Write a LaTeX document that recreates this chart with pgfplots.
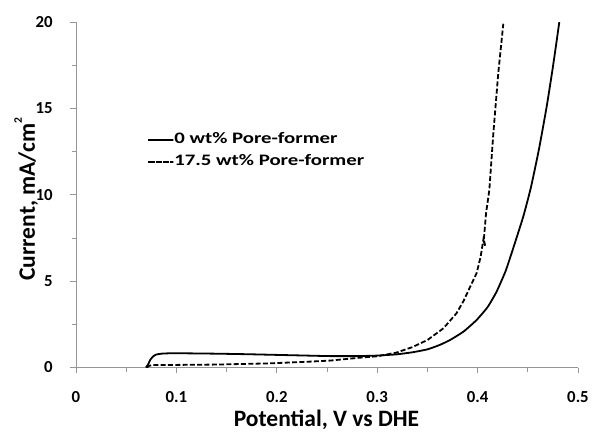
\documentclass[border=0pt]{standalone}
\usepackage{fontspec}
\setmainfont{Carlito}
\usepackage{graphicx}
\usepackage{pgfplots}
\pgfplotsset{compat=1.18}
\definecolor{axgray}{RGB}{150,150,150}
\pgfplotsset{
  longleg/.style={legend image code/.code={\path (0pt,0pt) rectangle (25pt,0pt);
    \draw[##1] (0pt,0pt) -- (24.4pt,0pt);}},
  shortleg/.style={legend image code/.code={\path (0pt,0pt) rectangle (25pt,0pt);
    \draw[##1] (0pt,0pt) -- (19.6pt,0pt);}},
}

\begin{document}
\begin{tikzpicture}
\begin{axis}[
  name=ax, at={(0,0)}, anchor=south west,
  scale only axis, width=502pt, height=345.5pt,
  xmin=0, xmax=0.5, ymin=0, ymax=20,
  axis x line*=bottom, axis y line*=left,
  axis line style={axgray, line width=0.8pt},
  every tick/.style={axgray, line width=0.8pt},
  tick align=outside, major tick length=5.5pt, minor tick length=4pt,
  xtick={0,0.1,0.2,0.3,0.4,0.5}, xticklabels={0,0.1,0.2,0.3,0.4,0.5},
  minor xtick={0.05,0.15,0.25,0.35,0.45},
  ytick={0,5,10,15,20}, yticklabels={0,5,10,15,20},
  minor ytick={2.5,7.5,12.5,17.5},
  ticklabel style={font=\fontsize{16.8}{19}\selectfont\bfseries, inner sep=0pt},
  xticklabel style={anchor=north, yshift=-18.5pt},
  yticklabel style={anchor=east, xshift=-17.7pt},
  label style={font=\fontsize{23.5}{27}\selectfont\bfseries},
  xlabel={Potential, V vs DHE},
  xlabel style={at={(axis description cs:0.499,-0.171)}, anchor=base},
  ylabel={Current, mA/cm\raisebox{13pt}{\fontsize{11.5}{11.5}\selectfont 2}},
  ylabel style={at={(axis description cs:-0.082,0.487)}, anchor=base},
  legend style={at={(axis description cs:0.142,0.681)}, anchor=north west,
    draw=none, fill=none, inner sep=0pt, row sep=7pt,
    font=\fontsize{16}{19}\selectfont\bfseries,
    nodes={inner sep=0pt, text height=11pt, text depth=4pt}},
  legend cell align=left,
]
\addplot[black, line width=1.8pt, smooth, tension=0.3, longleg] coordinates {
(0.0697,0) (0.0720,0.2) (0.0740,0.45) (0.0770,0.65) (0.0800,0.75)
(0.0850,0.80) (0.0920,0.82) (0.1100,0.82) (0.1400,0.80) (0.1700,0.77)
(0.2000,0.73) (0.2300,0.69) (0.2530,0.66) (0.2800,0.66) (0.3000,0.69)
(0.3190,0.76) (0.3350,0.88) (0.3500,1.05) (0.3620,1.30) (0.3725,1.59)
(0.3858,2.07) (0.3990,2.75) (0.4100,3.50) (0.4190,4.40) (0.4280,5.60)
(0.4360,7.00) (0.4455,8.74) (0.4530,10.40) (0.4610,12.60) (0.4688,15.10)
(0.4750,17.40) (0.4814,20.0)
};
\addlegendentry{\scalebox{1.3}[1]{0 wt\% Pore-former}}
\addplot[black, line width=1.8pt, dash pattern=on 5pt off 2.3pt, shortleg] coordinates {
(0.0704,0) (0.0730,0.10) (0.0760,0.14) (0.1000,0.15) (0.1400,0.17)
(0.1930,0.24) (0.2330,0.34) (0.2530,0.40) (0.2830,0.57) (0.3000,0.65)
(0.3190,0.86) (0.3350,1.18) (0.3500,1.59) (0.3660,2.27) (0.3790,3.14)
(0.3860,3.85) (0.3920,4.60) (0.3990,5.46) (0.4030,6.40) (0.4057,7.39)
(0.4075,7.05) (0.4062,7.40) (0.4084,8.93) (0.4117,10.28) (0.4124,10.86)
(0.4157,13.57) (0.4206,17.05) (0.4256,19.9)
};
\addlegendentry{\scalebox{1.3}[1]{17.5 wt\% Pore-former}}
\end{axis}
\path[use as bounding box] (-76pt,-60.5pt) rectangle (516pt,367.5pt);
\end{tikzpicture}
\end{document}
